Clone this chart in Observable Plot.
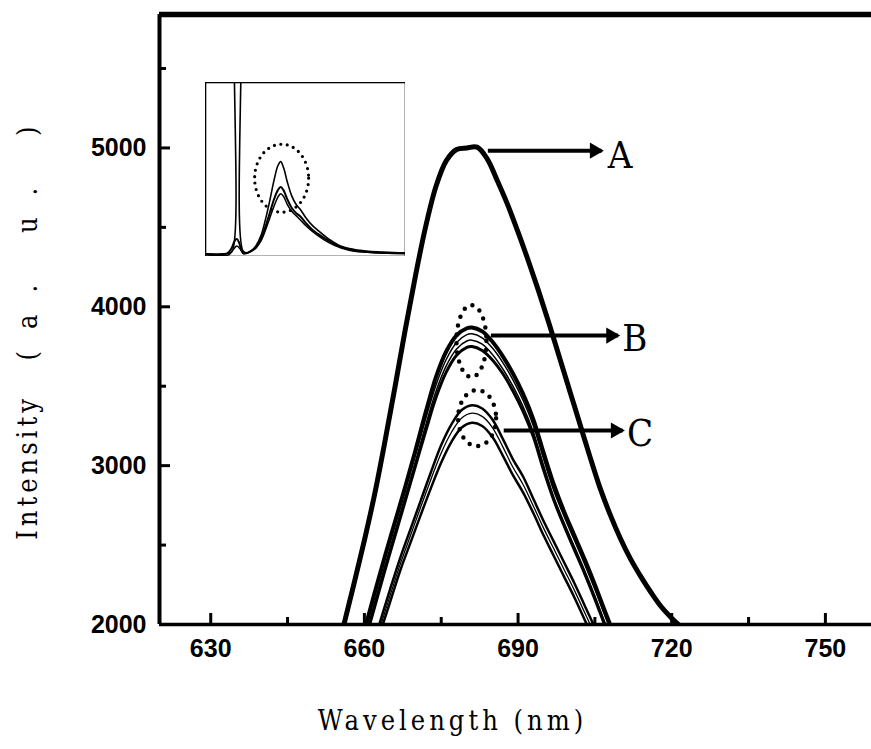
<!DOCTYPE html>
<html><head><meta charset="utf-8">
<script src="https://cdn.jsdelivr.net/npm/d3@7"></script>
<script src="https://cdn.jsdelivr.net/npm/@observablehq/plot@0.6"></script>
<style>
body{margin:0;background:#fff;}
#wrap{position:relative;width:871px;height:749px;}
#wrap svg{display:block;}
</style></head><body><div id="wrap"></div>
<script>
// ---- axis ticks ----
const xTicksMajor = [630, 660, 690, 720, 750];
const xTicksMinor = [645, 675, 705, 735];
const yTicksMajor = [2000, 3000, 4000, 5000];
const yTicksMinor = [2500, 3500, 4500, 5500];
const xTitle = "Wavelength (nm)";
const yTitleA = "Intensity";
const yTitleB = "(a. u. )";

// ---- curve A ----
const aX = [650,654,656,658,660,662,664,666,668,670,672,674,676,678,680,682,684,686,688,690,692,694,696,698,700,702,704,706,708,710,712,714,716,718,720,722,725];
const aY = [1250,1750,2000,2260,2530,2820,3150,3500,3860,4200,4510,4760,4920,4990,5000,5005,4930,4790,4640,4470,4290,4100,3900,3690,3480,3270,3060,2860,2690,2540,2410,2300,2200,2110,2040,1980,1900];

// ---- curves B ----
const bX  = [655,658,660,662,664,666,668,670,672,674,676,678,680,681,683,685,687,689,691,693,695,697,699,701,703,705,707,709,712];
const bY1 = [1350,1720,1960,2200,2430,2650,2870,3100,3340,3560,3720,3820,3865,3870,3845,3780,3690,3580,3450,3290,3080,2880,2710,2560,2410,2250,2080,1920,1700];
const bY2 = [1330,1700,1940,2180,2410,2630,2850,3070,3300,3510,3670,3775,3825,3830,3805,3740,3650,3540,3410,3250,3040,2840,2680,2530,2380,2220,2050,1890,1670];
const bY3 = [1300,1660,1900,2140,2370,2590,2810,3030,3260,3470,3630,3735,3785,3790,3765,3700,3610,3500,3370,3210,3000,2800,2640,2490,2340,2180,2010,1850,1630];
const bY4 = [1280,1640,1880,2110,2340,2560,2780,3000,3220,3430,3590,3695,3745,3750,3725,3665,3580,3470,3340,3180,2970,2780,2620,2470,2320,2160,1990,1830,1610];

// ---- curves C ----
const cX  = [658,661,663,665,667,669,671,673,675,677,679,681,683,685,687,689,691,693,695,697,699,701,703,705,708];
const cY1 = [1500,1800,2010,2220,2420,2600,2780,2960,3130,3260,3350,3380,3360,3290,3170,3040,2930,2790,2650,2520,2390,2260,2120,1980,1760];
const cY2 = [1470,1770,1975,2180,2380,2560,2740,2915,3080,3210,3300,3330,3310,3240,3120,2990,2880,2745,2605,2475,2345,2215,2075,1935,1720];
const cY3 = [1440,1740,1940,2140,2340,2515,2690,2860,3020,3150,3240,3270,3250,3180,3065,2940,2830,2700,2560,2430,2300,2170,2030,1890,1680];

// ---- annotations ----
const arrowLabels = ["A", "B", "C"];
const arrowX1 = [684.1, 684.7, 687.2];
const arrowX2 = [706.3, 709.5, 710.4];
const arrowY  = [4983, 3819, 3221];
const labelX  = [709.9, 712.8, 713.8];
const labelY  = [4951, 3800, 3202];
const ringX = [681, 682.1];
const ringY = [3781, 3296];

// ---- inset curves ----
const insetX1 = [576,600,608,612.5,614.5,617,623,625.5,627.5,632,638,645,652,658,664,670,675,679,683,688,694,700,706,714,722,730,745,761,780,800,820,850];
const insetY1 = [1.5,1.5,2,3,150,500,500,150,3,2,3,6,12,21,32,44,52,54.5,51,43,35,30,27,22,18,15,10,6,4,3,2.5,2];
const insetX2 = [576,605,612,616,619,622,626,632,638,645,652,658,664,670,675,679,683,688,694,700,706,714,722,730,745,761,780,800,820,850];
const insetY2 = [1.5,1.5,5,9,10,8,3,2,3,5,10,17,25,33,38,40,38,33,28,25,23,19,15.5,13,9,5.5,3.5,2.5,2,2];
const insetX3 = [576,608,614,619,624,628,638,645,652,658,664,670,675,679,683,688,694,700,706,714,722,730,745,761,780,800,820,850];
const insetY3 = [1,1,4,6,4,1.5,3,5,9,15,22,29,34,36,34.5,30,26,23.5,21,17.5,14.5,12,8,5,3,2.5,2,1.5];
const insetRingX = [681];
const insetRingY = [44.7];

// ---------------------------------------------------------------
const pts = (xs, ys) => xs.map((x, i) => ({x, y: ys[i]}));
const W = 871, H = 749, mL = 159, mR = 0, mT = 14, mB = 125;
const fw = W - mL - mR, fh = H - mT - mB;
const xDomain = [620, 759], yDomain = [2000, 5840];
const arrows = arrowLabels.map((l, i) => ({l, x1: arrowX1[i], x2: arrowX2[i], y: arrowY[i], lx: labelX[i], ly: labelY[i]}));
const lineOpt = (sw) => ({x: "x", y: "y", stroke: "#000", strokeWidth: sw, curve: "catmull-rom", clip: true});
const tickFont = {fontFamily: "'Liberation Sans', Arial, sans-serif", fontSize: 25, fontWeight: "bold", fill: "#000"};
const titleFont = {fontFamily: "'DejaVu Serif Condensed', 'DejaVu Serif', serif", fontSize: 27, fill: "#000"};

const main = Plot.plot({
  width: W, height: H, marginLeft: mL, marginRight: mR, marginTop: mT, marginBottom: mB,
  x: {domain: xDomain, axis: null},
  y: {domain: yDomain, axis: null},
  style: {background: "white"},
  marks: [
    Plot.line(pts(cX, cY1), lineOpt(2.5)),
    Plot.line(pts(cX, cY2), lineOpt(1.3)),
    Plot.line(pts(cX, cY3), lineOpt(2.5)),
    Plot.line(pts(bX, bY4), lineOpt(3)),
    Plot.line(pts(bX, bY3), lineOpt(1.5)),
    Plot.line(pts(bX, bY2), lineOpt(1.5)),
    Plot.line(pts(bX, bY1), lineOpt(4)),
    Plot.line(pts(aX, aY), lineOpt(5)),
    // frame
    Plot.ruleY([yDomain[1]], {strokeWidth: 5.5}),
    Plot.ruleX([xDomain[0]], {strokeWidth: 4}),
    Plot.ruleY([yDomain[0]], {strokeWidth: 3.5}),
    // ticks (inward)
    Plot.tickX(xTicksMajor, {x: d => d, insetTop: fh - 11, strokeWidth: 3}),
    Plot.tickX(xTicksMinor, {x: d => d, insetTop: fh - 7, strokeWidth: 3}),
    Plot.tickY(yTicksMajor, {y: d => d, insetRight: fw - 11, strokeWidth: 3}),
    Plot.tickY(yTicksMinor, {y: d => d, insetRight: fw - 7, strokeWidth: 3}),
    // tick labels
    Plot.text(xTicksMajor, {x: d => d, frameAnchor: "bottom", dy: 15, lineAnchor: "top", text: d => String(d), ...tickFont}),
    Plot.text(yTicksMajor, {y: d => d, frameAnchor: "left", dx: -13, textAnchor: "end", text: d => String(d), ...tickFont}),
    // titles
    Plot.text([xTitle], {frameAnchor: "bottom", dx: -63, dy: 105, textAnchor: "middle", lineAnchor: "bottom", text: d => d, ...titleFont}),
    Plot.text([yTitleA], {frameAnchor: "left", dx: -131, dy: 148, rotate: -90, textAnchor: "middle", lineAnchor: "middle", text: d => d, ...titleFont}),
    Plot.text([yTitleB], {frameAnchor: "left", dx: -131, dy: -87, rotate: -90, textAnchor: "middle", lineAnchor: "middle", text: d => d, ...titleFont}),
    // arrows
    Plot.link(arrows, {x1: "x1", x2: "x2", y1: "y", y2: "y", stroke: "#000", strokeWidth: 4}),
    Plot.dot(arrows, {x: "x2", y: "y", symbol: "triangle", r: 6, rotate: 90, fill: "#000", stroke: "none", dx: -7}),
    Plot.text(arrows, {x: "lx", y: "ly", text: "l", fontFamily: "'DejaVu Serif Condensed', 'DejaVu Serif', serif", fontSize: 38, fill: "#000"})
  ]
});
// letter spacing of the titles (set on the rendered text nodes)
d3.select(main).selectAll("text").each(function() {
  const t = this.textContent;
  if (t === xTitle) d3.select(this).style("letter-spacing", "4px");
  if (t === yTitleA) d3.select(this).style("letter-spacing", "4px");
  if (t === yTitleB) d3.select(this).style("letter-spacing", "22px");
});

// dotted rings around the B and C peaks
{
  const sx = main.scale("x"), sy = main.scale("y");
  const fx = d3.scaleLinear(sx.domain, sx.range), fy = d3.scaleLinear(sy.domain, sy.range);
  const rx = [15, 19], ry = [36, 28];
  const g = d3.select(main).append("g");
  ringX.forEach((x, i) => {
    g.append("ellipse").attr("cx", fx(x)).attr("cy", fy(ringY[i])).attr("rx", rx[i]).attr("ry", ry[i])
      .attr("fill", "none").attr("stroke", "#000").attr("stroke-width", 4.5)
      .attr("stroke-dasharray", "0 9").attr("stroke-linecap", "round");
  });
}

document.getElementById("wrap").appendChild(main);

// ---- inset ----
const inset = Plot.plot({
  width: 200, height: 174, margin: 0,
  x: {domain: [576, 850], axis: null},
  y: {domain: [0, 100], axis: null},
  style: {background: "white"},
  marks: [
    Plot.line(pts(insetX3, insetY3), {x: "x", y: "y", stroke: "#000", strokeWidth: 1.5, curve: "catmull-rom", clip: true}),
    Plot.line(pts(insetX2, insetY2), {x: "x", y: "y", stroke: "#000", strokeWidth: 2, curve: "catmull-rom", clip: true}),
    Plot.line(pts(insetX1, insetY1), {x: "x", y: "y", stroke: "#000", strokeWidth: 1.6, curve: "catmull-rom", clip: true}),
    Plot.frame({stroke: "#000", strokeWidth: 1.6})
  ]
});
{
  const sx = inset.scale("x"), sy = inset.scale("y");
  const fx = d3.scaleLinear(sx.domain, sx.range), fy = d3.scaleLinear(sy.domain, sy.range);
  d3.select(inset).append("ellipse").attr("cx", fx(insetRingX[0])).attr("cy", fy(insetRingY[0]))
    .attr("rx", 27).attr("ry", 34).attr("fill", "none").attr("stroke", "#000").attr("stroke-width", 3.2)
    .attr("stroke-dasharray", "0 6.5").attr("stroke-linecap", "round");
}
inset.style.position = "absolute";
inset.style.left = "205px";
inset.style.top = "82px";
inset.style.maxWidth = "none";
document.getElementById("wrap").appendChild(inset);
</script></body></html>
